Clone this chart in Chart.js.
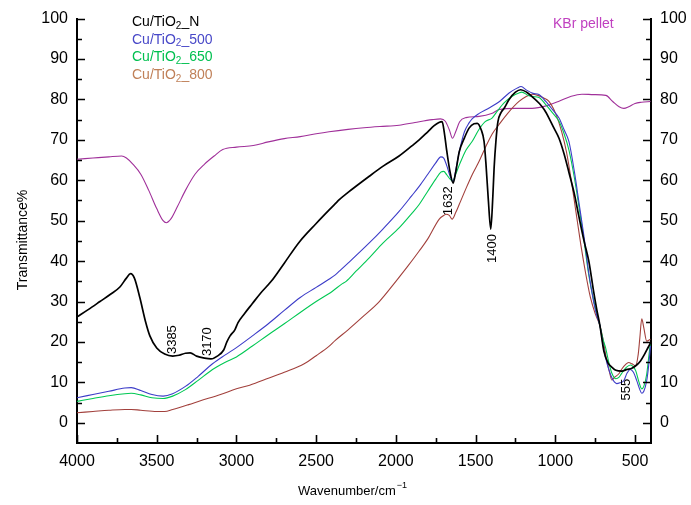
<!DOCTYPE html>
<html>
<head>
<meta charset="utf-8">
<script src="https://cdn.jsdelivr.net/npm/chart.js@4.4.0/dist/chart.umd.min.js"></script>
<style>
  html, body { margin: 0; padding: 0; background: #fff; }
  canvas { display: block; }
</style>
</head>
<body>
<canvas id="c" width="691" height="505"></canvas>
<script>
// FT-IR spectra: transmittance (%) vs wavenumber (cm-1)
var seriesNames = ['Cu/TiO2_N', 'Cu/TiO2_500', 'Cu/TiO2_650', 'Cu/TiO2_800'];
var kbrName = 'KBr pellet';

var xTicks = [4000, 3500, 3000, 2500, 2000, 1500, 1000, 500];
var yTicks = [0, 10, 20, 30, 40, 50, 60, 70, 80, 90, 100];

// Cu/TiO2_N
var wnN = [4000, 3930, 3856, 3790, 3731, 3690, 3664, 3640, 3606, 3570, 3543, 3500, 3450, 3400, 3360, 3320, 3290, 3250, 3200, 3160, 3120, 3080, 3060, 3040, 3010, 2990, 2950, 2900, 2850, 2782, 2700, 2604, 2500, 2420, 2380, 2355, 2300, 2167, 2080, 1980, 1900, 1854, 1800, 1760, 1730, 1710, 1697, 1680, 1660, 1641, 1625, 1603, 1570, 1541, 1510, 1490, 1465, 1447, 1435, 1420, 1405, 1392, 1384, 1372, 1360, 1340, 1321, 1290, 1250, 1217, 1180, 1146, 1100, 1070, 1040, 1010, 977, 945, 915, 880, 852, 820, 790, 760, 740, 720, 696, 670, 646, 620, 583, 550, 520, 490, 466, 440, 420, 403];
var tN = [26.2, 28, 30, 31.8, 33.6, 35.8, 36.9, 35.8, 31, 25, 21.5, 18.5, 17, 16.5, 16.7, 17.2, 17.3, 16.5, 16, 15.8, 16.5, 18, 20, 21.5, 23, 24.8, 27, 29.5, 32, 35, 39.5, 44.8, 49.3, 52.6, 54.2, 55.2, 57, 61, 63.5, 66, 68.5, 70, 72, 73.5, 74.3, 74.5, 72, 67, 62, 59.3, 62, 67, 70.5, 72.9, 74, 74.1, 72.5, 69.6, 64, 55, 47.9, 56, 63, 70, 74.5, 76.8, 77.8, 80, 81.8, 82.4, 81.8, 80.7, 79, 77.5, 75.4, 73, 70.4, 66.5, 62, 56.5, 51, 45, 40, 32.5, 28, 24, 17.8, 14.8, 13.8, 13, 12.8, 13.2, 13.5, 14.3, 15.3, 17, 18.5, 19.8];

// Cu/TiO2_500
var wn500 = [4000, 3900, 3800, 3700, 3660, 3600, 3530, 3460, 3400, 3320, 3240, 3150, 3070, 3000, 2900, 2800, 2700, 2600, 2500, 2420, 2380, 2355, 2300, 2167, 2080, 1980, 1900, 1854, 1800, 1750, 1718, 1700, 1680, 1660, 1641, 1620, 1600, 1570, 1541, 1522, 1480, 1415, 1350, 1290, 1240, 1215, 1180, 1140, 1103, 1060, 1020, 977, 945, 915, 880, 850, 820, 790, 760, 740, 720, 700, 685, 665, 646, 630, 615, 595, 571, 550, 530, 510, 490, 470, 458, 445, 427, 415, 403];
var t500 = [6.2, 7, 7.8, 8.6, 8.7, 8, 7, 6.6, 7.2, 9, 11.5, 14.6, 16.8, 18.6, 21.5, 24.5, 27.8, 31, 33.5, 35.5, 36.6, 37.5, 39.5, 44.5, 48, 52.3, 56.2, 58.5, 61.5, 64.3, 65.8, 65.5, 63.5, 61, 59.7, 63.5, 67.5, 72, 74.2, 75.2, 76.5, 77.9, 79.5, 81.6, 82.8, 83.2, 82.3, 81.5, 81.2, 79.5, 77.6, 75.4, 72.5, 69.6, 62, 54, 46, 37, 30, 26.5, 24, 19, 16.1, 13.2, 11.2, 10.1, 9.7, 9.9, 10.4, 12.3, 13.2, 12.5, 10.5, 8.2, 7.3, 7.8, 10.4, 14, 19];

// Cu/TiO2_650
var wn650 = [4000, 3900, 3800, 3700, 3660, 3600, 3530, 3460, 3400, 3320, 3240, 3150, 3070, 3000, 2900, 2800, 2700, 2600, 2500, 2400, 2340, 2312, 2250, 2167, 2080, 1980, 1900, 1854, 1800, 1750, 1718, 1700, 1680, 1660, 1645, 1625, 1600, 1560, 1522, 1480, 1440, 1397, 1370, 1320, 1270, 1228, 1210, 1170, 1140, 1103, 1060, 1020, 977, 945, 915, 880, 850, 820, 790, 758, 740, 720, 700, 685, 665, 646, 620, 600, 583, 555, 528, 510, 496, 475, 458, 445, 427, 415, 403];
var t650 = [5.3, 6, 6.7, 7.2, 7.3, 6.9, 6.2, 6, 6.6, 8.2, 10.5, 13.2, 15, 16.3, 19, 21.8, 24.5, 27.3, 30, 32.5, 34.3, 35, 37.5, 40.8, 44.5, 48.2, 51.8, 54, 57.3, 60.3, 62, 62.2, 61.3, 60.3, 59.8, 61.5, 64, 67.5, 69.6, 72.5, 74.5, 75.4, 76.8, 79.2, 80.8, 81.6, 81.8, 81, 80.7, 80.5, 78.7, 76.8, 74.6, 71.5, 67.5, 60.5, 53, 45, 36.5, 30, 27, 24, 20.5, 18.6, 15, 12.3, 10.9, 11.3, 12.3, 13.7, 14.3, 13.8, 12.9, 10, 8.4, 9, 12, 16, 20];

// Cu/TiO2_800
var wn800 = [4000, 3900, 3800, 3700, 3660, 3600, 3500, 3450, 3400, 3300, 3230, 3100, 3000, 2917, 2800, 2700, 2575, 2500, 2420, 2380, 2300, 2200, 2104, 2000, 1930, 1854, 1800, 1728, 1700, 1686, 1665, 1647, 1625, 1603, 1560, 1520, 1478, 1440, 1397, 1353, 1300, 1228, 1180, 1146, 1110, 1070, 1040, 996, 960, 930, 900, 870, 840, 810, 780, 750, 720, 700, 680, 660, 646, 630, 600, 583, 560, 540, 520, 497, 480, 470, 458, 445, 427, 403];
var t800 = [2.5, 2.8, 3.1, 3.3, 3.3, 3.1, 2.8, 2.8, 3.3, 4.5, 5.4, 7, 8.4, 9.3, 11, 12.5, 14.6, 16.6, 18.9, 20.4, 23, 26.5, 30, 35, 38.5, 42.5, 45.5, 50.4, 51.3, 51.6, 51.3, 50.4, 52, 54, 58, 61.5, 64.7, 68, 71.4, 73.8, 76.5, 79.5, 80.8, 81.3, 81, 80.3, 79.5, 76.3, 72, 67, 60, 52, 44, 37, 31, 27, 24, 20.5, 16, 12.5, 10.6, 11.2, 12.2, 13.3, 14.4, 14.9, 14.6, 14.1, 17, 21, 25.7, 23.5, 20.2, 20.7];

// KBr pellet
var wnKBr = [4000, 3900, 3800, 3720, 3690, 3650, 3600, 3550, 3500, 3460, 3440, 3410, 3370, 3320, 3260, 3200, 3140, 3086, 3000, 2894, 2800, 2700, 2600, 2500, 2419, 2300, 2200, 2100, 1980, 1880, 1772, 1720, 1690, 1665, 1645, 1625, 1600, 1560, 1478, 1400, 1353, 1250, 1146, 1050, 980, 900, 833, 760, 683, 640, 600, 570, 540, 500, 460, 403];
var tKBr = [65.2, 65.5, 65.8, 66, 65.5, 64, 61.5, 57.5, 53, 50, 49.5, 50.5, 53.5, 57.5, 61.5, 64, 66, 67.6, 68.2, 68.6, 69.5, 70.3, 70.8, 71.5, 72, 72.6, 73, 73.3, 73.6, 74.3, 75, 75.2, 74.6, 72.5, 70.4, 72, 74.5, 75.5, 75.8, 76.5, 77.5, 77.8, 77.8, 78.5, 79.5, 80.8, 81.3, 81.2, 81, 79.5, 78.2, 77.8, 78.2, 79, 79.3, 79.5];

// band labels: text, wavenumber, transmittance where the label starts
var bandText = ['3385', '3170', '1632', '1400', '555'];
var bandWn = [3400, 3180, 1672, 1397, 553];
var bandT = [17, 16.5, 58.5, 46.7, 10.9];
var bandUp = [true, true, false, false, false];

var lineColors = ['#000000', '#3c3cc8', '#00c853', '#a2403c'];
var textColors = ['#000000', '#4848c8', '#00c050', '#c08058'];
var kbrLine = '#a0309a', kbrText = '#c040c0';
var FONT = '"Liberation Sans", Arial, sans-serif';

function pts(xs, ys) {
  return xs.map(function(v, i) { return { x: v, y: ys[i] } })
}

var allWn = [wnN, wn500, wn650, wn800];
var allT = [tN, t500, t650, t800];

var datasets = seriesNames.map(function(name, i) {
  return {
    label: name,
    data: pts(allWn[i], allT[i]),
    borderColor: lineColors[i],
    borderWidth: i === 0 ? 1.7 : 1.1,
    pointRadius: 0,
    cubicInterpolationMode: 'monotone',
    fill: false
  }
})
datasets.push({
  label: kbrName,
  data: pts(wnKBr, tKBr),
  borderColor: kbrLine,
  borderWidth: 1.1,
  pointRadius: 0,
  cubicInterpolationMode: 'monotone',
  fill: false
})

// subscript "2" in TiO2
function drawName(ctx, name, x, y, size) {
  var k = name.indexOf('TiO2')
  var a = name.slice(0, k + 3), b = name.slice(k + 4)
  ctx.font = size + 'px ' + FONT
  ctx.fillText(a, x, y)
  x += ctx.measureText(a).width
  ctx.font = Math.round(size * 0.72) + 'px ' + FONT
  ctx.fillText('2', x, y + 4)
  x += ctx.measureText('2').width
  ctx.font = size + 'px ' + FONT
  ctx.fillText(b, x, y)
}

var decor = {
  id: 'decor',
  afterDraw: function(chart) {
    var ctx = chart.ctx, a = chart.chartArea
    var sx = chart.scales.x, sy = chart.scales.y
    ctx.save()
    ctx.strokeStyle = '#000'
    ctx.lineWidth = 1.6
    ctx.beginPath()
    // x ticks pointing up
    for (var v = 500; v <= 4000; v += 250) {
      var px = Math.round(sx.getPixelForValue(v)) + 0.5
      var len = v % 500 === 0 ? 8 : 5
      ctx.moveTo(px, a.bottom)
      ctx.lineTo(px, a.bottom - len)
    }
    // y ticks pointing in on both sides
    for (var w = 5; w <= 100; w += 5) {
      var py = Math.round(sy.getPixelForValue(w)) + 0.5
      var l2 = w % 10 === 0 ? 8 : 5
      ctx.moveTo(a.left, py); ctx.lineTo(a.left + l2, py)
      ctx.moveTo(a.right, py); ctx.lineTo(a.right - l2, py)
    }
    var p0 = Math.round(sy.getPixelForValue(0)) + 0.5
    ctx.moveTo(a.left, p0); ctx.lineTo(a.left + 8, p0)
    ctx.moveTo(a.right, p0); ctx.lineTo(a.right - 8, p0)
    ctx.stroke()

    // legend
    ctx.textBaseline = 'middle'
    ctx.textAlign = 'left'
    seriesNames.forEach(function(n, i) {
      ctx.fillStyle = textColors[i]
      drawName(ctx, n, 132, 22 + i * 17.7, 14)
    })
    ctx.fillStyle = kbrText
    ctx.font = '14px ' + FONT
    ctx.fillText(kbrName, 553, 24)

    // band labels
    ctx.fillStyle = '#000'
    ctx.font = '13px ' + FONT
    bandText.forEach(function(t, i) {
      ctx.save()
      ctx.translate(sx.getPixelForValue(bandWn[i]), sy.getPixelForValue(bandT[i]))
      ctx.rotate(-Math.PI / 2)
      ctx.textAlign = bandUp[i] ? 'left' : 'right'
      ctx.textBaseline = 'middle'
      ctx.fillText(t, 0, 0)
      ctx.restore()
    })

    // axis titles
    ctx.save()
    ctx.translate(23, 240)
    ctx.rotate(-Math.PI / 2)
    ctx.textAlign = 'center'
    ctx.font = '14px ' + FONT
    ctx.fillText('Transmittance%', 0, 0)
    ctx.restore()

    ctx.font = '13px ' + FONT
    ctx.textAlign = 'left'
    var base = 'Wavenumber/cm'
    var wBase = ctx.measureText(base).width
    ctx.font = '9px ' + FONT
    var wSup = ctx.measureText('\u22121').width
    var x0 = 352 - (wBase + wSup) / 2
    ctx.font = '13px ' + FONT
    ctx.fillText(base, x0, 491)
    ctx.font = '9px ' + FONT
    ctx.fillText('\u22121', x0 + wBase + 1, 486)
    ctx.restore()
  }
}

var tickFont = { family: FONT, size: 16 }
function plain(v) { return String(v) }

new Chart(document.getElementById('c'), {
  type: 'line',
  data: { datasets: datasets },
  plugins: [decor],
  options: {
    responsive: false,
    animation: false,
    devicePixelRatio: 1,
    layout: { padding: { top: 17, left: 0, right: 0, bottom: 0 } },
    plugins: { legend: { display: false }, tooltip: { enabled: false } },
    scales: {
      x: {
        type: 'linear',
        reverse: true,
        min: 400,
        max: 4000,
        afterBuildTicks: function(s) { s.ticks = xTicks.map(function(v) { return { value: v } }) },
        afterFit: function(s) { s.height = 62 },
        grid: { display: false, drawTicks: false },
        border: { display: true, color: '#000', width: 2 },
        ticks: { font: tickFont, color: '#000', padding: 9, maxRotation: 0, callback: plain }
      },
      y: {
        position: 'left',
        min: -5,
        max: 100,
        afterBuildTicks: function(s) { s.ticks = yTicks.map(function(v) { return { value: v } }) },
        afterFit: function(s) { s.width = 77 },
        grid: { display: false, drawTicks: false },
        border: { display: true, color: '#000', width: 2 },
        ticks: { font: tickFont, color: '#000', padding: 9, callback: plain }
      },
      y2: {
        position: 'right',
        min: -5,
        max: 100,
        afterBuildTicks: function(s) { s.ticks = yTicks.map(function(v) { return { value: v } }) },
        afterFit: function(s) { s.width = 40 },
        grid: { display: false, drawTicks: false },
        border: { display: true, color: '#000', width: 2 },
        ticks: { font: tickFont, color: '#000', padding: 9, callback: plain }
      }
    }
  }
})
</script>
</body>
</html>
